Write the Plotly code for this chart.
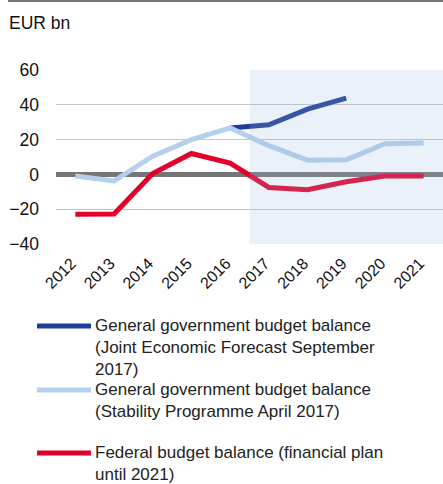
import plotly.graph_objects as go

years = ["2012", "2013", "2014", "2015", "2016", "2017", "2018", "2019", "2020", "2021"]

# General government balance, Joint Economic Forecast September 2017 (from 2016 on)
jef_years = ["2016", "2017", "2018", "2019"]
jef_values = [26.7, 28.5, 37.5, 43.8]

# General government balance, Stability Programme April 2017
sp_values = [-0.9, -3.8, 10.5, 20.0, 26.7, 16.5, 8.2, 8.4, 17.6, 18.0]

# Federal budget balance, financial plan until 2021
fed_values = [-22.9, -22.7, 0.5, 12.0, 6.5, -7.5, -8.8, -4.2, -0.9, -0.9]

y_ticks = [-40, -20, 0, 20, 40, 60]

legend_labels = [
    "General government budget balance<br>(Joint Economic Forecast September<br>2017)",
    "General government budget balance<br>(Stability Programme April 2017)",
    "Federal budget balance (financial plan<br>until 2021)",
]

DARK_BLUE = "#1f3c98"
LIGHT_BLUE = "#b4d0ee"
RED = "#e4002b"
colors = [DARK_BLUE, LIGHT_BLUE, RED]
FONT = "Liberation Sans, Arial, sans-serif"

# plot area in pixels: x 56..443, y 70..244
L, R, T, B = 56, 443, 70, 244


def px_x(px):
    return (px - L) / (R - L)


def px_y(py):
    return (B - py) / (B - T)


fig = go.Figure()

fig.add_trace(go.Scatter(
    x=jef_years, y=jef_values, mode="lines",
    line=dict(color=DARK_BLUE, width=5), name=legend_labels[0],
))
fig.add_trace(go.Scatter(
    x=years, y=sp_values, mode="lines",
    line=dict(color=LIGHT_BLUE, width=5), name=legend_labels[1],
))
fig.add_trace(go.Scatter(
    x=years, y=fed_values, mode="lines",
    line=dict(color=RED, width=5), name=legend_labels[2],
))

# Forecast period shading laid over the lines
fig.add_shape(
    type="rect", xref="x", yref="y",
    x0=4.5, x1=9.5, y0=-40, y1=60,
    fillcolor="rgba(150,185,225,0.2)", line=dict(width=0),
    layer="above",
)

# Rule across the top of the panel
fig.add_shape(
    type="line", xref="paper", yref="paper",
    x0=px_x(8), x1=1.0, y0=px_y(1), y1=px_y(1),
    line=dict(color="#777777", width=2),
)

fig.add_annotation(
    text="EUR bn", xref="paper", yref="paper",
    x=px_x(7), y=px_y(23), xanchor="left", yanchor="middle",
    showarrow=False, font=dict(family=FONT, size=17.5, color="#111111"),
)

# Legend drawn below the chart: line swatch beside the first text line
legend_rows = [326, 390, 453]
for label, color, row in zip(legend_labels, colors, legend_rows):
    fig.add_shape(
        type="line", xref="paper", yref="paper",
        x0=px_x(37), x1=px_x(91), y0=px_y(row), y1=px_y(row),
        line=dict(color=color, width=5),
    )
    fig.add_annotation(
        text=label, xref="paper", yref="paper",
        x=px_x(93), y=px_y(row - 12), xanchor="left", yanchor="top",
        align="left", showarrow=False,
        font=dict(family=FONT, size=17, color="#222222"),
    )

fig.update_xaxes(
    type="category", categoryorder="array", categoryarray=years,
    range=[-0.5, 9.5], tickangle=-45, showgrid=False, showline=False,
    ticks="", ticklabelstandoff=6, ticklabelshift=-4,
    tickfont=dict(family=FONT, size=16, color="#111111"),
)
fig.update_yaxes(
    range=[-40, 60], tickvals=y_ticks, showgrid=True,
    gridcolor="#c6c6c6", gridwidth=1,
    zeroline=True, zerolinecolor="#767676", zerolinewidth=5,
    showline=False, ticks="", ticklabelstandoff=16,
    tickfont=dict(family=FONT, size=17.5, color="#111111"),
)

fig.update_layout(
    width=443, height=484,
    margin=dict(l=L, r=443 - R, t=T, b=484 - B),
    plot_bgcolor="white", paper_bgcolor="white",
    showlegend=False,
)

fig.write_html("out.html")
